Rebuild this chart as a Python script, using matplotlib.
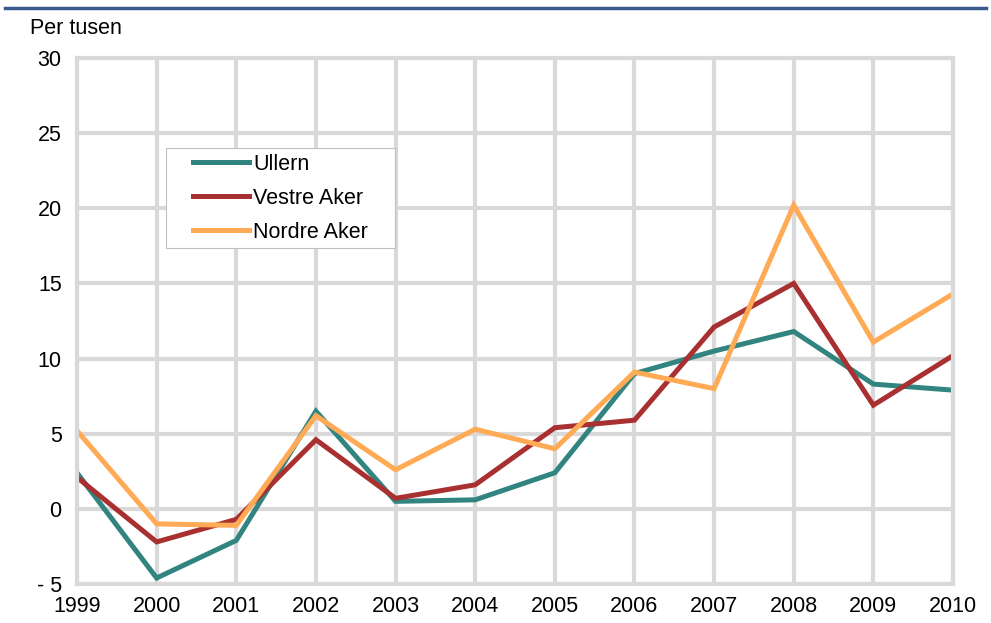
import matplotlib
matplotlib.use("Agg")
import matplotlib.pyplot as plt
from matplotlib.lines import Line2D
from matplotlib.patches import Rectangle

plt.rcParams['font.family'] = ['Liberation Sans', 'DejaVu Sans']

years = [1999, 2000, 2001, 2002, 2003, 2004, 2005, 2006, 2007, 2008, 2009, 2010]
ullern = [2.4, -4.6, -2.1, 6.5, 0.5, 0.6, 2.4, 9.0, 10.5, 11.8, 8.3, 7.9]
vestre_aker = [2.1, -2.2, -0.7, 4.6, 0.7, 1.6, 5.4, 5.9, 12.1, 15.0, 6.9, 10.2]
nordre_aker = [5.2, -1.0, -1.1, 6.2, 2.6, 5.3, 4.0, 9.1, 8.0, 20.2, 11.1, 14.3]

y_ticks = [-5, 0, 5, 10, 15, 20, 25, 30]
y_labels = ['- 5', '0', '5', '10', '15', '20', '25', '30']

grid_col = '#D9D9D9'
fs = 15.5

fig = plt.figure(figsize=(9.91, 6.23), dpi=100)
ax = fig.add_axes([77 / 991, 1 - 584 / 623, 876 / 991, 526 / 623])

ax.plot(years, ullern, color='#31847F', lw=3.6, label='Ullern', solid_joinstyle='miter')
ax.plot(years, vestre_aker, color='#A93030', lw=3.6, label='Vestre Aker', solid_joinstyle='miter')
ax.plot(years, nordre_aker, color='#FFAA55', lw=3.6, label='Nordre Aker', solid_joinstyle='miter')

ax.set_xlim(1999, 2010)
ax.set_ylim(-5, 30)
ax.set_xticks(years)
ax.set_xticklabels([str(y) for y in years])
ax.set_yticks(y_ticks)
ax.set_yticklabels(y_labels)
ax.tick_params(length=0, labelsize=fs)
ax.tick_params(axis='y', pad=11)
ax.tick_params(axis='x', pad=9)
ax.set_axisbelow(True)
ax.grid(True, color=grid_col, lw=3)
for s in ax.spines.values():
    s.set_color(grid_col)
    s.set_linewidth(3)

# legend frame drawn separately so padding matches
box = Rectangle((166 / 991, 1 - 248 / 623), 229 / 991, 100 / 623,
                transform=fig.transFigure, facecolor='white',
                edgecolor='#BFBFBF', lw=0.8, zorder=3, clip_on=False)
ax.add_patch(box)
leg = ax.legend(loc='upper left', bbox_to_anchor=(193 / 991, 1 - 154 / 623),
                bbox_transform=fig.transFigure, frameon=False, fontsize=fs,
                borderpad=0, borderaxespad=0, handlelength=2.6,
                handletextpad=0.2, labelspacing=0.6)
leg.set_zorder(4)

fig.text(30 / 991, 1 - 28 / 623, 'Per tusen', fontsize=fs, ha='left', va='center')

fig.add_artist(Line2D([5 / 991, 986 / 991], [1 - 8 / 623, 1 - 8 / 623],
                      transform=fig.transFigure, color='#3B5B8E', lw=2.5))

fig.savefig('out.png', dpi=100)
